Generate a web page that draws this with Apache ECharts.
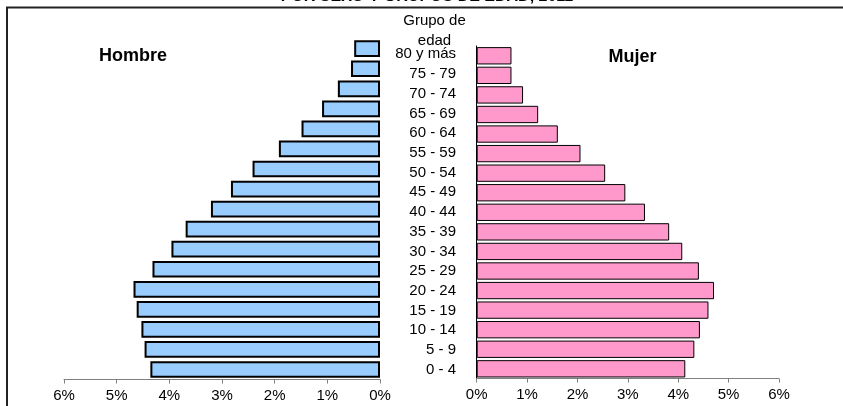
<!DOCTYPE html>
<html>
<head>
<meta charset="utf-8">
<script src="https://cdn.jsdelivr.net/npm/echarts@6/dist/echarts.min.js"></script>
<style>html,body{margin:0;padding:0;background:#fff;}#c{width:843px;height:406px;}</style>
</head>
<body>
<div id="c"></div>
<script>
var categories = ['0 - 4','5 - 9','10 - 14','15 - 19','20 - 24','25 - 29','30 - 34','35 - 39','40 - 44','45 - 49','50 - 54','55 - 59','60 - 64','65 - 69','70 - 74','75 - 79','80 y más'];
var hombre = [4.36, 4.47, 4.53, 4.62, 4.68, 4.32, 3.96, 3.69, 3.21, 2.83, 2.42, 1.92, 1.49, 1.10, 0.80, 0.55, 0.49];
var mujer  = [4.14, 4.32, 4.43, 4.60, 4.71, 4.41, 4.08, 3.82, 3.34, 2.95, 2.55, 2.06, 1.61, 1.22, 0.92, 0.69, 0.69];
var tickMin = 0, tickMax = 6, tickStep = 1;

var FONT = "'Liberation Sans', Arial, sans-serif";
var chart = echarts.init(document.getElementById('c'));
var valueAxisBase = {
  type: 'value', min: tickMin, max: tickMax, interval: tickStep,
  axisLine: {show: true, lineStyle: {color: '#808080', width: 1}},
  axisTick: {show: true, length: 4, lineStyle: {color: '#808080'}},
  splitLine: {show: false},
  axisLabel: {formatter: '{value}%', fontFamily: FONT, fontSize: 15, color: '#000', margin: 9}
};
chart.setOption({
  animation: false,
  graphic: [
    {type: 'rect', shape: {x: 7, y: 7.5, width: 1000, height: 1000}, style: {fill: 'none', stroke: '#222', lineWidth: 2}},
    {type: 'text', x: 427, y: -3, style: {text: 'POR SEXO Y GRUPOS DE EDAD, 2011', font: 'bold 16px ' + FONT, fill: '#000', align: 'center', verticalAlign: 'middle'}},
    {type: 'text', x: 434.5, y: 20.8, style: {text: 'Grupo de', font: '15px ' + FONT, fill: '#000', align: 'center', verticalAlign: 'middle'}},
    {type: 'text', x: 434.5, y: 41.3, style: {text: 'edad', font: '15px ' + FONT, fill: '#000', align: 'center', verticalAlign: 'middle'}},
    {type: 'text', x: 133, y: 56.3, style: {text: 'Hombre', font: 'bold 18px ' + FONT, fill: '#000', align: 'center', verticalAlign: 'middle'}},
    {type: 'text', x: 632.5, y: 57.5, style: {text: 'Mujer', font: 'bold 18px ' + FONT, fill: '#000', align: 'center', verticalAlign: 'middle'}}
  ],
  grid: [
    {left: 64, width: 316, top: 38.7, height: 340.8},
    {left: 476.7, width: 302.3, top: 46, height: 332.6},
    {left: 380, width: 96.7, top: 44.5, height: 335}
  ],
  xAxis: [
    Object.assign({}, valueAxisBase, {gridIndex: 0, inverse: true}),
    Object.assign({}, valueAxisBase, {gridIndex: 1}),
    {type: 'value', gridIndex: 2, min: 0, max: 1, show: false}
  ],
  yAxis: [
    {type: 'category', gridIndex: 0, data: categories, axisLine: {show: false}, axisTick: {show: false}, axisLabel: {show: false}},
    {type: 'category', gridIndex: 1, data: categories, axisLine: {show: true, lineStyle: {color: '#000', width: 1}}, axisTick: {show: false}, axisLabel: {show: false}},
    {type: 'category', gridIndex: 2, data: categories, position: 'left', axisLine: {show: false}, axisTick: {show: false},
     axisLabel: {inside: true, align: 'right', margin: 76, fontFamily: FONT, fontSize: 15, color: '#000'}}
  ],
  series: [
    {type: 'bar', xAxisIndex: 0, yAxisIndex: 0, data: hombre, barCategoryGap: '16.7%',
     itemStyle: {color: '#99CCFF', borderColor: '#000', borderWidth: 2}},
    {type: 'bar', xAxisIndex: 1, yAxisIndex: 1, data: mujer, barCategoryGap: '11.5%',
     itemStyle: {color: '#FF99CC', borderColor: '#000', borderWidth: 1}}
  ]
});
</script>
</body>
</html>
